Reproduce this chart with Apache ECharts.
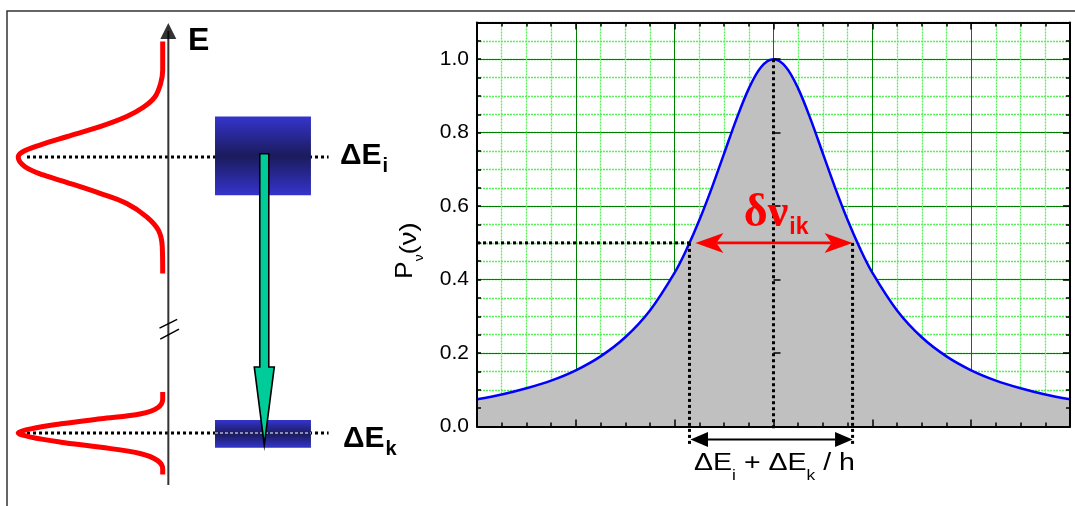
<!DOCTYPE html>
<html>
<head>
<meta charset="utf-8">
<script src="https://cdn.jsdelivr.net/npm/echarts@6/dist/echarts.min.js"></script>
<style>html,body{margin:0;padding:0;background:#fff}#c{width:1075px;height:506px}</style>
</head>
<body>
<div id="c"></div>
<script>
// ================= DATA =================
// Right panel: normalised line profile P_nu(nu); nu in units of one major grid division, centred on nu_ik
const nuValues = [-3,-2.75,-2.5,-2.25,-2,-1.75,-1.5,-1.25,-1,-0.875,-0.75,-0.625,-0.5,-0.375,-0.25,-0.125,0,
                  0.125,0.25,0.375,0.5,0.625,0.75,0.875,1,1.25,1.5,1.75,2,2.25,2.5,2.75,3];
const profileValues = [0.074,0.087,0.104,0.125,0.153,0.191,0.243,0.316,0.419,0.485,0.562,0.649,0.743,0.837,0.920,0.979,1.000,
                       0.979,0.920,0.837,0.743,0.649,0.562,0.485,0.419,0.316,0.243,0.191,0.153,0.125,0.104,0.087,0.074];
const yTickLabels = ['0.0','0.2','0.4','0.6','0.8','1.0'];
const halfMaximum = 0.5;
const fwhmEdges = [-0.85, 0.80];        // dotted guides at the half-maximum points
const redArrowEnds = [-0.79, 0.80];      // delta nu_ik arrow
const blackArrowEnds = [-0.84, 0.80];    // (dEi + dEk)/h arrow

// Left panel: energy-level scheme (energy in arbitrary units, intensity normalised)
const levelEnergies = [7, 1];                       // E_i, E_k
const levelBands = [[6.17, 7.88], [0.68, 1.28]];    // blurred level widths
const upperProfileEnergy = [9.51,8.89,8.60,8.31,8.08,7.88,7.66,7.44,7.26,7.12,7.00,6.79,6.61,6.45,6.21,5.99,5.70,5.41,5.05,4.47];
const upperProfileIntensity = [0,0,0.014,0.053,0.134,0.249,0.434,0.665,0.850,0.965,1,0.953,0.827,0.665,0.434,0.249,0.111,0.030,0.003,0];
const lowerProfileEnergy = [1.89,1.74,1.55,1.42,1.31,1.20,1.09,1.00,0.91,0.80,0.69,0.55,0.40,0.22,0.10];
const lowerProfileIntensity = [0,0,0.035,0.150,0.428,0.705,0.913,1,0.913,0.705,0.428,0.150,0.035,0,0];
const energyAxisRange = [-0.13, 9.74];
const transitionEnergies = [7.07, 0.74];            // arrow from E_i down to E_k

// ================= LAYOUT / STYLE =================
const SANS = '"Liberation Sans", Arial, sans-serif';
const SERIF = '"Liberation Serif", "Times New Roman", serif';
const DOT = {color:'#000', width:3, type:[3,3]};
const GREEN = '#008000', LIGHT = '#55f055';
const guideBottom = -0.055, centreGuideBottom = -0.012, arrowRowY = -0.035;
const levelLineSpan = [0.939, -1.148];
const boxSpan = [-0.362, -1.026];
const arrowV = -0.703, energyAxisV = -0.039;
const isMajor = v => Math.abs(v / 0.2 - Math.round(v / 0.2)) < 1e-6;

const peakIndex = profileValues.indexOf(Math.max(...profileValues));
const peakNu = nuValues[peakIndex], peakVal = profileValues[peakIndex];

// ================= AXES =================
const xBase = {type:'value', min:-3, max:3, interval:1};
const tickStyle = {color:'#000', width:1.5};
const frameLine = {show:true, onZero:false, lineStyle:{color:'#000', width:2}};
const xAxes = [
  Object.assign({gridIndex:0, position:'bottom', z:0, axisLine:{show:false}, axisTick:{show:false}, axisLabel:{show:false},
    splitLine:{show:true, lineStyle:{color:GREEN, width:1}},
    minorTick:{show:false, splitNumber:4}, minorSplitLine:{show:true, lineStyle:{color:LIGHT, width:1.3, type:[2,1]}}}, xBase),
  Object.assign({gridIndex:0, position:'bottom', z:5, axisLine:frameLine, axisTick:{show:true, inside:true, length:7, lineStyle:tickStyle},
    minorTick:{show:true, splitNumber:4, length:4, lineStyle:tickStyle}, axisLabel:{show:false}, splitLine:{show:false}}, xBase),
  Object.assign({gridIndex:0, position:'top', z:5, axisLine:frameLine, axisTick:{show:true, inside:true, length:7, lineStyle:tickStyle},
    minorTick:{show:true, splitNumber:4, length:4, lineStyle:tickStyle}, axisLabel:{show:false}, splitLine:{show:false}}, xBase),
  Object.assign({gridIndex:2, show:false}, xBase),
  {gridIndex:1, type:'value', min:-1.8, max:1.1, inverse:true, show:false}
];
const yMinor = {type:'value', min:0, max:1.1, interval:0.05};
const yMajor = {type:'value', min:0, max:1.1, interval:0.2};
const yAxes = [
  Object.assign({gridIndex:0, position:'left', z:0, axisLine:{show:false}, axisTick:{show:false},
    axisLabel:{show:true, margin:8, color:'#000', fontFamily:SANS, fontSize:21,
      formatter: v => (isMajor(v) && v < 1.05) ? yTickLabels[Math.round(v / 0.2)] : ''},
    splitLine:{show:true, lineStyle:{color:LIGHT, width:1.3, type:[2,1]}}}, yMinor),
  Object.assign({gridIndex:0, position:'left', z:0, axisLine:{show:false}, axisTick:{show:false}, axisLabel:{show:false},
    splitLine:{show:true, lineStyle:{color:GREEN, width:1}}}, yMajor),
  Object.assign({gridIndex:0, position:'left', z:5, axisLine:frameLine, axisTick:{show:true, inside:true, length:4, lineStyle:tickStyle},
    axisLabel:{show:false}, splitLine:{show:false}}, yMinor),
  Object.assign({gridIndex:0, position:'left', z:5, axisLine:{show:false}, axisTick:{show:true, inside:true, length:7, lineStyle:tickStyle},
    axisLabel:{show:false}, splitLine:{show:false}}, yMajor),
  Object.assign({gridIndex:0, position:'right', z:5, axisLine:frameLine, axisTick:{show:true, inside:true, length:4, lineStyle:tickStyle},
    axisLabel:{show:false}, splitLine:{show:false}}, yMinor),
  Object.assign({gridIndex:0, position:'right', z:5, axisLine:{show:false}, axisTick:{show:true, inside:true, length:7, lineStyle:tickStyle},
    axisLabel:{show:false}, splitLine:{show:false}}, yMajor),
  {gridIndex:2, type:'value', min:-0.2, max:1.1, show:false},
  {gridIndex:1, type:'value', min:-0.5, max:10, show:false}
];

// ================= SERIES =================
function seg(pts, style, xi, yi, z) {
  return {type:'line', xAxisIndex:xi, yAxisIndex:yi, data:pts, symbol:'none', lineStyle:style, z:z, silent:true, clip:false};
}
function textSeries(specs, xi, yi) {
  return {type:'custom', xAxisIndex:xi, yAxisIndex:yi, z:6, silent:true, clip:false,
    data: specs.map(s => [s.at[0], s.at[1]]),
    renderItem(params, api) {
      const s = specs[params.dataIndex];
      const p = api.coord([api.value(0), api.value(1)]);
      return {type:'text', x:p[0], y:p[1], rotation:s.rotation || 0, scaleX:s.scaleX || 1,
        style:{x:0, y:0, text:s.text, rich:s.rich, align:s.align || 'left', verticalAlign:'top'}};
    }};
}

const series = [];
// profile curve with grey area
series.push({type:'line', xAxisIndex:0, yAxisIndex:0, data:nuValues.map((x, i) => [x, profileValues[i]]),
  smooth:0.35, symbol:'none', lineStyle:{color:'#0000ff', width:2.5}, areaStyle:{color:'#c0c0c0', opacity:1}, z:2, silent:true});
// dotted guides
series.push(seg([[-3, halfMaximum], [fwhmEdges[0], halfMaximum]], DOT, 3, 6, 4));
series.push(seg([[fwhmEdges[0], halfMaximum], [fwhmEdges[0], guideBottom]], DOT, 3, 6, 4));
series.push(seg([[fwhmEdges[1], halfMaximum], [fwhmEdges[1], guideBottom]], DOT, 3, 6, 4));
series.push(seg([[peakNu, peakVal], [peakNu, centreGuideBottom]], DOT, 3, 6, 4));
// arrows
series.push({type:'custom', xAxisIndex:3, yAxisIndex:6, z:5, silent:true, clip:false,
  data:[[redArrowEnds[0], redArrowEnds[1], halfMaximum, 0], [blackArrowEnds[0], blackArrowEnds[1], arrowRowY, 1]],
  renderItem(params, api) {
    const a = api.coord([api.value(0), api.value(2)]), b = api.coord([api.value(1), api.value(2)]);
    const y = a[1];
    if (api.value(3) === 0) {
      const L = 28, N = 21, H = 10, c = '#ff0000';
      return {type:'group', children:[
        {type:'line', shape:{x1:a[0] + N, y1:y, x2:b[0] - N, y2:y}, style:{stroke:c, lineWidth:2.6}},
        {type:'polygon', shape:{points:[[a[0], y], [a[0] + L, y - H], [a[0] + N, y], [a[0] + L, y + H]]}, style:{fill:c}},
        {type:'polygon', shape:{points:[[b[0], y], [b[0] - L, y - H], [b[0] - N, y], [b[0] - L, y + H]]}, style:{fill:c}}
      ]};
    }
    const L = 17.5, H = 7.5;
    return {type:'group', children:[
      {type:'line', shape:{x1:a[0] + L, y1:y, x2:b[0] - L, y2:y}, style:{stroke:'#000', lineWidth:2}},
      {type:'polygon', shape:{points:[[a[0], y], [a[0] + L, y - H], [a[0] + L, y + H]]}, style:{fill:'#000'}},
      {type:'polygon', shape:{points:[[b[0], y], [b[0] - L, y - H], [b[0] - L, y + H]]}, style:{fill:'#000'}}
    ]};
  }});
// right panel text
series.push(textSeries([
  {at:[-0.300, 0.640], text:'{g|δν}{s|ik}', rich:{
    g:{fontFamily:SERIF, fontSize:46, lineHeight:46, fontWeight:'bold', fill:'#ff0000', verticalAlign:'top'},
    s:{fontFamily:SANS, fontSize:23, fontWeight:'bold', lineHeight:23, padding:[25, 0, 0, 1], fill:'#ff0000', verticalAlign:'top'}}},
  {at:[-0.804, -0.070], scaleX:1.24, text:'{m|ΔE}{s|i}{m| + ΔE}{s|k}{m| / h}', rich:{
    m:{fontFamily:SANS, fontSize:23, lineHeight:23, fill:'#000', verticalAlign:'top'},
    s:{fontFamily:SANS, fontSize:14, lineHeight:14, padding:[17, 0, 0, 0], fill:'#000', verticalAlign:'top'}}},
  {at:[-3.836, 0.479], rotation:Math.PI / 2, scaleX:1.15, align:'center', text:'{p|P}{s|ν}{q|(ν)}', rich:{
    p:{fontFamily:SANS, fontSize:23, lineHeight:23, fill:'#000', verticalAlign:'top'},
    s:{fontFamily:SANS, fontSize:12, lineHeight:12, padding:[19, 0, 0, 0], fill:'#000', verticalAlign:'top'},
    q:{fontFamily:SANS, fontSize:24, lineHeight:24, padding:[3, 0, 0, 0], fill:'#000', verticalAlign:'top'}}}
], 3, 6));

// ---- left panel ----
levelEnergies.forEach(e => series.push(seg([[levelLineSpan[0], e], [levelLineSpan[1], e]], DOT, 4, 7, 1)));
series.push({type:'custom', xAxisIndex:4, yAxisIndex:7, z:2, silent:true, clip:false,
  data: levelBands.map(b => [boxSpan[0], boxSpan[1], b[0], b[1]]),
  renderItem(params, api) {
    const p0 = api.coord([api.value(0), api.value(3)]), p1 = api.coord([api.value(1), api.value(2)]);
    return {type:'rect', shape:{x:p0[0], y:p0[1], width:p1[0] - p0[0], height:p1[1] - p0[1]},
      style:{fill:new echarts.graphic.LinearGradient(0, 0, 0, 1, [
        {offset:0, color:'#3434cc'}, {offset:0.5, color:'#1b1b5c'}, {offset:1, color:'#3434cc'}])}};
  }});
series.push(seg([[boxSpan[0], levelEnergies[1]], [boxSpan[1], levelEnergies[1]]], {color:'#fff', width:1, type:[3,2]}, 4, 7, 3));
series.push({type:'line', xAxisIndex:4, yAxisIndex:7, data:upperProfileIntensity.map((v, i) => [v, upperProfileEnergy[i]]),
  smooth:0.35, symbol:'none', lineStyle:{color:'#ff0000', width:5}, z:3, silent:true, clip:false});
series.push({type:'line', xAxisIndex:4, yAxisIndex:7, data:lowerProfileIntensity.map((v, i) => [v, lowerProfileEnergy[i]]),
  smooth:0.35, symbol:'none', lineStyle:{color:'#ff0000', width:5}, z:3, silent:true, clip:false});
// energy axis with arrow head and break marks
series.push(seg([[energyAxisV, energyAxisRange[0]], [energyAxisV, energyAxisRange[1]]], {color:'#333', width:2}, 4, 7, 3));
series.push({type:'scatter', xAxisIndex:4, yAxisIndex:7, data:[[energyAxisV, energyAxisRange[1]]], symbol:'triangle',
  symbolSize:[16, 16], itemStyle:{color:'#000'}, z:3, silent:true, clip:false});
series.push(seg([[0.022, 3.28], [-0.100, 3.47]], {color:'#000', width:1.5}, 4, 7, 3));
series.push(seg([[0.017, 3.04], [-0.113, 3.26]], {color:'#000', width:1.5}, 4, 7, 3));
// transition arrow
series.push({type:'custom', xAxisIndex:4, yAxisIndex:7, z:4, silent:true, clip:false,
  data:[[arrowV, transitionEnergies[0], transitionEnergies[1]]],
  renderItem(params, api) {
    const t = api.coord([api.value(0), api.value(1)]), b = api.coord([api.value(0), api.value(2)]);
    const x = t[0], sw = 4.5, hw = 10, hl = 78;
    const hb = b[1] - hl;
    return {type:'polygon', shape:{points:[[x - sw, t[1]], [x + sw, t[1]], [x + sw, hb], [x + hw, hb], [x, b[1]], [x - hw, hb], [x - sw, hb]]},
      style:{fill:'#00cc99', stroke:'#000', lineWidth:1.6, lineJoin:'miter'}};
  }});
series.push(textSeries([
  {at:[-0.175, 9.874], text:'{b|E}', rich:{b:{fontFamily:SANS, fontSize:32, lineHeight:32, fontWeight:'bold', fill:'#000', verticalAlign:'top'}}},
  {at:[-1.227, 7.363], text:'{b|ΔE}{s|i}', rich:{
    b:{fontFamily:SANS, fontSize:30, lineHeight:30, fontWeight:'bold', fill:'#000', verticalAlign:'top'},
    s:{fontFamily:SANS, fontSize:20, lineHeight:20, fontWeight:'bold', padding:[16, 0, 0, 1], fill:'#000', verticalAlign:'top'}}},
  {at:[-1.247, 1.204], text:'{b|ΔE}{s|k}', rich:{
    b:{fontFamily:SANS, fontSize:30, lineHeight:30, fontWeight:'bold', fill:'#000', verticalAlign:'top'},
    s:{fontFamily:SANS, fontSize:20, lineHeight:20, fontWeight:'bold', padding:[16, 0, 0, 1], fill:'#000', verticalAlign:'top'}}}
], 4, 7));

const option = {
  animation:false,
  backgroundColor:'#fff',
  grid:[
    {left:477, top:22.5, width:593, height:404},
    {left:3.75, top:19, width:419.05, height:483},
    {left:477, top:22.5, width:593, height:477.5}
  ],
  xAxis:xAxes,
  yAxis:yAxes,
  series:series,
  graphic:[{type:'rect', silent:true, z:-10, shape:{x:7, y:11, width:1200, height:700},
    style:{fill:'none', stroke:'#333', lineWidth:1.5}}]
};
const chart = echarts.init(document.getElementById('c'));
chart.setOption(option);
</script>
</body>
</html>
